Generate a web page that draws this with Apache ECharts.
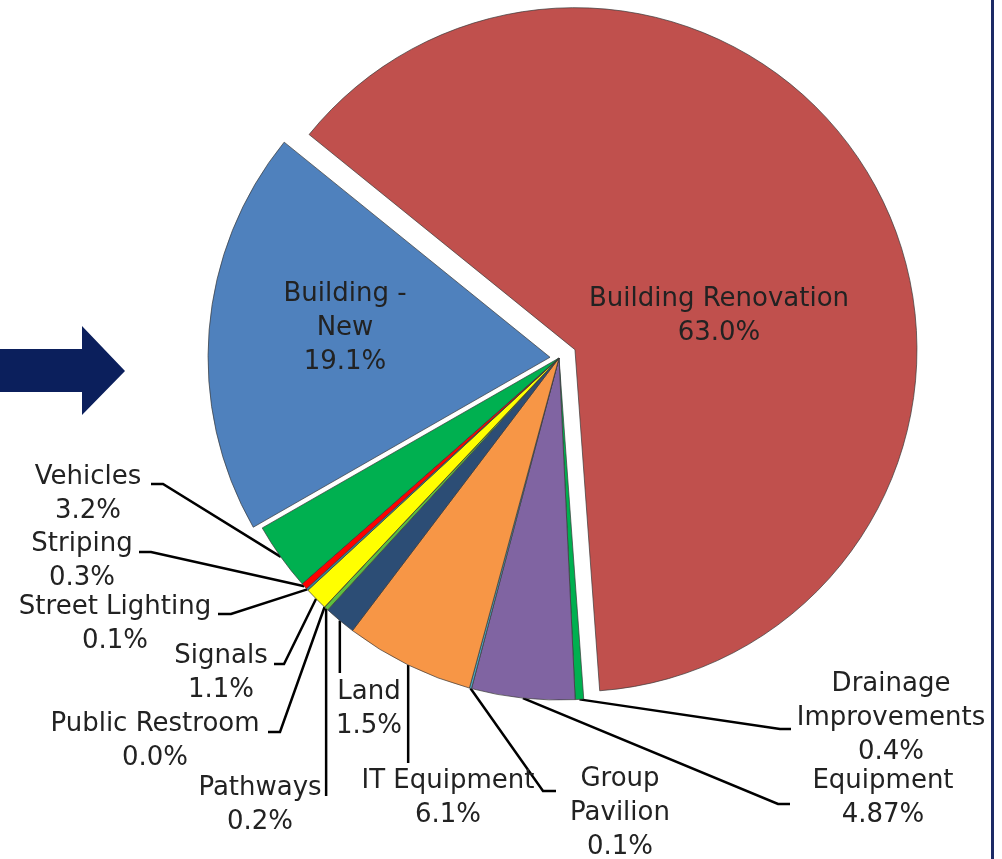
<!DOCTYPE html>
<html><head><meta charset="utf-8">
<script src="https://cdn.jsdelivr.net/npm/echarts@6/dist/echarts.min.js"></script>
<style>html,body{margin:0;padding:0;background:#fff}#chart{width:1002px;height:859px}</style>
</head><body><div id="chart"></div>
<script>
// ---- data ----
const categories = ['Building -\nNew', 'Building Renovation', 'Drainage\nImprovements', 'Equipment', 'Group\nPavilion',
  'IT Equipment', 'Land', 'Pathways', 'Public Restroom', 'Signals', 'Street Lighting', 'Striping', 'Vehicles'];
const values = [19.1, 63.0, 0.4, 4.87, 0.1, 6.1, 1.5, 0.2, 0.0, 1.1, 0.1, 0.3, 3.2];

// ---- styles ----
const colors = ['#4F81BD', '#C0504D', '#00B050', '#8064A2', '#4BACC6', '#F79646', '#2C4D75',
  '#5CBF3E', '#9BBB59', '#FFFF00', '#31859C', '#FF0000', '#00B050'];

// exploded slices: index -> offset (px)
const explode = { 0: 9, 1: 18 };

// ---- label layout (text block anchor, leader line end) ----
const labelTable = [
  { x: 345, y: 277 },
  { x: 719, y: 282 },
  { x: 891, y: 667, end: [791, 729], elbow: -11 },
  { x: 883, y: 764, end: [790, 804], elbow: -12 },
  { x: 620, y: 762, end: [556, 791], elbow: -13 },
  { x: 448, y: 764, end: [411, 763], vertical: true },
  { x: 369, y: 675, end: [342, 673], vertical: true },
  { x: 260, y: 771, end: [328, 796], vertical: true },
  { x: 155, y: 707, end: [268, 732], elbow: 12 },
  { x: 221, y: 639, end: [274, 664], elbow: 10 },
  { x: 115, y: 590, end: [218, 614], elbow: 13 },
  { x: 82,  y: 527, end: [139, 552], elbow: 12 },
  { x: 88,  y: 460, end: [151, 484], elbow: 12 }
];

const CX = 559, CY = 358, R = 342, START = 209.8;

function pctText(v) {
  const t = Math.abs(Math.round(v * 10) - v * 10) < 1e-9 ? v.toFixed(1) : String(v);
  return t + '%';
}

function layoutLabel(params) {
  const L = labelTable[params.dataIndex];
  if (!L) return {};
  const out = { x: L.x, y: L.y, align: 'center', verticalAlign: 'top' };
  const pts = params.labelLinePoints;
  if (L.end && pts && pts.length) {
    const p0 = pts[0];
    if (L.vertical) {
      out.labelLinePoints = [p0, [p0[0], (p0[1] + L.end[1]) / 2], [p0[0], L.end[1]]];
    } else {
      out.labelLinePoints = [p0, [L.end[0] + L.elbow, L.end[1]], L.end];
    }
  }
  return out;
}

const FONT = 'DejaVu Sans';
const labelStyle = {
  show: true, position: 'outside', color: '#222222', fontFamily: FONT, fontSize: 26,
  lineHeight: 34, align: 'center',
  formatter: p => categories[p.dataIndex] + '\n' + pctText(values[p.dataIndex])
};
const border = { borderColor: '#3a3a3a', borderWidth: 0.7 };
const clear = { color: 'rgba(0,0,0,0)', borderWidth: 0 };

// main series: all slices (exploded ones drawn by their own series), all labels
const mainData = categories.map((c, i) => {
  const d = { name: c, value: values[i], itemStyle: Object.assign({ color: colors[i] }, border) };
  if (explode[i] !== undefined) { d.itemStyle = clear; d.labelLine = { show: false }; }
  return d;
});

// shifted series for exploded slices: center moved along the slice mid-angle
const total = values.reduce((a, b) => a + b, 0);
function midAngle(idx) {
  let cum = 0;
  for (let i = 0; i < idx; i++) cum += values[i];
  return (START - 360 * (cum + values[idx] / 2) / total) * Math.PI / 180;
}
const explodedSeries = Object.keys(explode).map(k => {
  const idx = +k, off = explode[k], a = midAngle(idx);
  return {
    type: 'pie', center: [CX + off * Math.cos(a), CY - off * Math.sin(a)], radius: R,
    startAngle: START, clockwise: true, silent: true, animation: false,
    emphasis: { disabled: true }, label: { show: false }, labelLine: { show: false },
    data: categories.map((c, i) => ({
      name: c, value: values[i],
      itemStyle: i === idx ? Object.assign({ color: colors[i] }, border) : clear
    }))
  };
});

const chart = echarts.init(document.getElementById('chart'), null, { renderer: 'canvas' });
chart.setOption({
  backgroundColor: '#ffffff',
  animation: false,
  graphic: [
    { type: 'polygon', shape: { points: [[0, 349], [82, 349], [82, 326], [125, 371], [82, 415], [82, 392], [0, 392]] },
      style: { fill: '#0B1F5C' }, silent: true },
    { type: 'rect', shape: { x: 991, y: 0, width: 3, height: 859 }, style: { fill: '#1C2A66' }, silent: true }
  ],
  series: explodedSeries.concat([{
    type: 'pie', center: [CX, CY], radius: R, startAngle: START, clockwise: true,
    avoidLabelOverlap: false, silent: true, animation: false,
    emphasis: { disabled: true }, minShowLabelAngle: 0,
    label: labelStyle,
    labelLine: { show: true, smooth: false, length: 10, length2: 10, lineStyle: { color: '#000', width: 2.5 } },
    labelLayout: layoutLabel,
    data: mainData
  }])
});
</script></body></html>
